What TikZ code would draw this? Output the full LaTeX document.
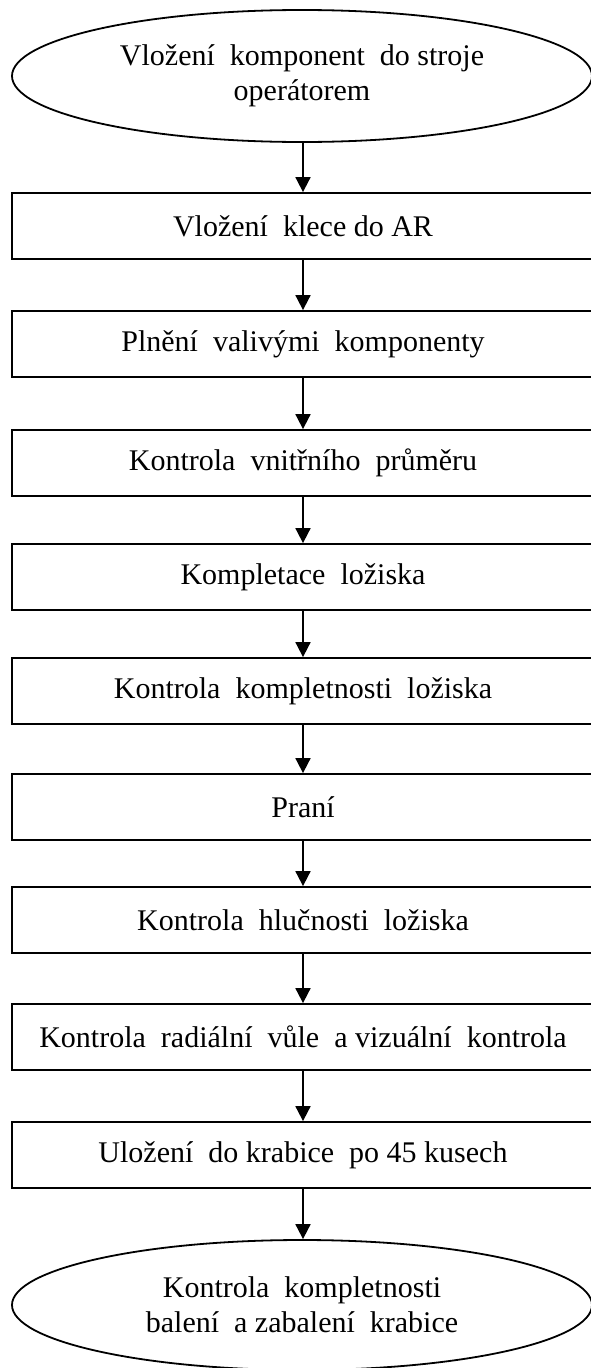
\documentclass[tikz,border=0pt]{standalone}
\usepackage{fontspec}
\setmainfont{Liberation Serif}
\usetikzlibrary{shapes.geometric,arrows.meta}
\begin{document}
\begin{tikzpicture}[x=1pt,y=-1pt,
  every node/.style={font=\fontsize{30}{35}\selectfont},
  stepbox/.style={draw,line width=1.8pt,minimum width=582pt,minimum height=66pt,inner sep=0pt},
  term/.style={draw,ellipse,line width=1.8pt,minimum width=580pt,minimum height=132pt,inner sep=0pt,align=center},
  conn/.style={line width=1.8pt,-{Triangle[length=15pt,width=15pt]}}]
\useasboundingbox (0,0) rectangle (590,1368);
\node[term] (e1) at (302,76) {Vložení \ komponent \ do stroje\\operátorem};
\node[stepbox] (b1) at (303,226) {Vložení \ klece do AR};
\node[stepbox] (b2) at (303,344) {Plnění \ valivými \ komponenty};
\node[stepbox] (b3) at (303,463) {Kontrola \ vnitřního \ průměru};
\node[stepbox] (b4) at (303,577) {Kompletace \ ložiska};
\node[stepbox] (b5) at (303,691) {Kontrola \ kompletnosti \ ložiska};
\node[stepbox] (b6) at (303,807) {Praní};
\node[stepbox] (b7) at (303,920) {Kontrola \ hlučnosti \ ložiska};
\node[stepbox] (b8) at (303,1037) {Kontrola \ radiální \ vůle \ a vizuální \ kontrola};
\node[stepbox] (b9) at (303,1155) {Uložení \ do krabice \ po 45 kusech};
\node[term,minimum height=130pt] (e2) at (302,1305) {Kontrola \ kompletnosti\\balení \ a zabalení \ krabice};
\draw[conn] (e1.south -| b1.north) -- (b1.north);
\draw[conn] (b1) -- (b2);
\draw[conn] (b2) -- (b3);
\draw[conn] (b3) -- (b4);
\draw[conn] (b4) -- (b5);
\draw[conn] (b5) -- (b6);
\draw[conn] (b6) -- (b7);
\draw[conn] (b7) -- (b8);
\draw[conn] (b8) -- (b9);
\draw[conn] (b9.south) -- (b9.south |- e2.north);
\end{tikzpicture}
\end{document}
